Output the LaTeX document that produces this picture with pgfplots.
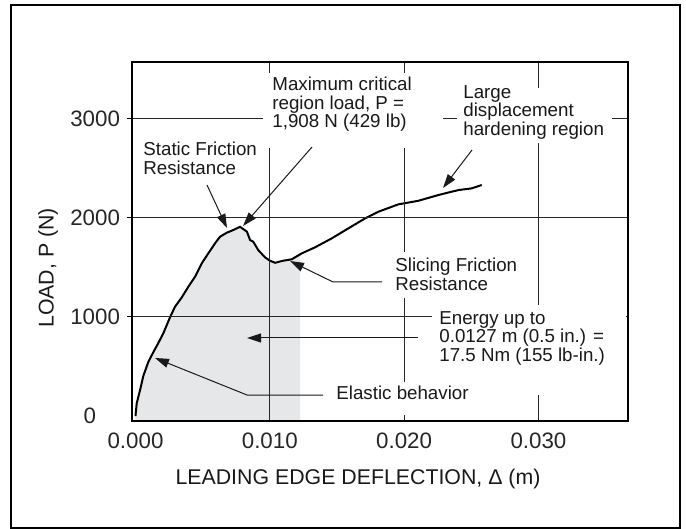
\documentclass[border=0pt]{standalone}
\usepackage{pgfplots}
\pgfplotsset{compat=1.18}
\usepackage{fontspec}
\setmainfont{Liberation Sans}
\usetikzlibrary{arrows.meta}
\definecolor{shade}{HTML}{E6E7E9}

\begin{document}
\begin{tikzpicture}
\begin{scope}[x=0.5bp,y=-0.5bp]
\path (0,0) rectangle (686,529);
\draw[line width=0.75bp] (11,5) rectangle (680,528);
\end{scope}
\begin{axis}[
  at={(66bp,-210.5bp)}, anchor=south west,
  scale only axis, width=248bp, height=179.5bp,
  xmin=-0.00026, xmax=0.03667, ymin=-50, ymax=3569,
  xtick={0.01,0.02,0.03}, xticklabels={0.010,0.020,0.030},
  ytick={1000,2000,3000}, yticklabels={1000,2000,3000},
  extra x ticks={0}, extra x tick labels={0.000},
  extra y ticks={0}, extra y tick labels={0\rule{12bp}{0pt}},
  extra x tick style={grid=none}, extra y tick style={grid=none, tick style={draw=none}},
  scaled x ticks=false,
  grid=major, major grid style={line width=0.5bp, black!85},
  axis line style={line width=1bp},
  axis on top,
  tick align=outside, major tick length=2.5bp,
  xtick pos=bottom, ytick pos=left,
  xtick style={draw=none}, ytick style={line width=0.5bp, black},
  ticklabel style={font=\fontsize{11.2}{12}\selectfont, black!85},
  /pgf/number format/assume math mode=true,
]
\addplot[fill=shade, draw=none] coordinates {
(0,-50) (0,0) (0.00009,128) (0.00034,262) (0.00058,403) (0.00095,544)
(0.00133,645) (0.00170,736) (0.00207,834) (0.00257,995) (0.00294,1102)
(0.00344,1195) (0.00393,1303) (0.00443,1404) (0.00493,1539) (0.00542,1640)
(0.00592,1741) (0.00629,1807) (0.00679,1848) (0.00716,1868) (0.00754,1892)
(0.00778,1908) (0.0083,1858) (0.00853,1774) (0.00877,1757) (0.00914,1673)
(0.00964,1600) (0.01001,1566) (0.01039,1545) (0.01100,1566) (0.01163,1580)
(0.01225,1630) (0.01225,-50)} -- cycle;
\addplot[line width=1bp, black] coordinates {
(0,0) (0.00009,128) (0.00034,262) (0.00058,403) (0.00095,544)
(0.00133,645) (0.00170,736) (0.00207,834) (0.00257,995) (0.00294,1102)
(0.00344,1195) (0.00393,1303) (0.00443,1404) (0.00493,1539) (0.00542,1640)
(0.00592,1741) (0.00629,1807) (0.00679,1848) (0.00716,1868) (0.00754,1892)
(0.00778,1908) (0.0083,1858) (0.00853,1774) (0.00877,1757) (0.00914,1673)
(0.00964,1600) (0.01001,1566) (0.01039,1545) (0.01100,1566) (0.01163,1580)
(0.01238,1640) (0.01337,1701) (0.01461,1791) (0.01585,1892) (0.01710,1993)
(0.01809,2060) (0.01957,2134) (0.02106,2170) (0.02255,2228) (0.02404,2278)
(0.02503,2295) (0.02578,2329)};
\end{axis}
\begin{scope}[x=0.5bp,y=-0.5bp]
\tikzset{ann/.style={font=\fontsize{9.4}{9.25}\selectfont, text=black!90, align=left, anchor=north west, inner sep=0pt},
  arr/.style={line width=0.5bp, black!90, -{Triangle[length=7bp,width=4.5bp]}}}
\fill[white] (263,73) rectangle (443,148);
\fill[white] (457,88) rectangle (612,143);
\fill[white] (390,252) rectangle (525,298);
\fill[white] (432,305) rectangle (626,395);
\fill[white] (330,382) rectangle (475,415);
\node[ann] at (272,77) {Maximum critical\\region load, P =\\1,908 N (429 lb)};
\node[ann] at (463,85) {Large\\displacement\\hardening region};
\node[ann] at (143,142) {Static Friction\\Resistance};
\node[ann] at (395,258) {Slicing Friction\\Resistance};
\node[ann] at (439,311) {Energy up to\\0.0127 m (0.5 in.) =\\17.5 Nm (155 lb-in.)};
\node[ann] at (336,386) {Elastic behavior};
\draw[arr] (312,147) -- (243,226);
\draw[arr] (207,185) -- (227,228);
\draw[arr] (472,150) -- (443,188);
\draw[arr] (382,282) -- (333,282) -- (290,261);
\draw[arr] (418,338) -- (247,338);
\draw[arr] (323,395) -- (247,395) -- (155,358);
\node[font=\fontsize{10.7}{12}\selectfont, text=black!90, rotate=90] at (48,268) {LOAD, P (N)};
\node[font=\fontsize{10.7}{12}\selectfont, text=black!90] at (358,479) {LEADING EDGE DEFLECTION, Δ (m)};
\end{scope}
\end{tikzpicture}
\end{document}
